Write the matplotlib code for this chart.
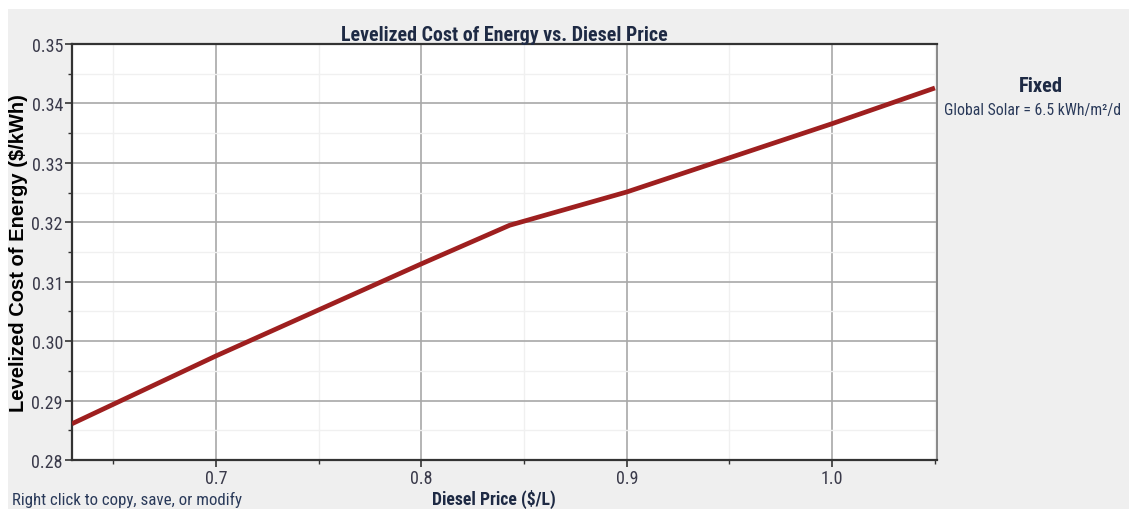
import matplotlib
matplotlib.use("Agg")
import matplotlib.pyplot as plt
from matplotlib import font_manager
from matplotlib.patches import Rectangle
from matplotlib.ticker import MultipleLocator, FormatStrFormatter

diesel_price = [0.63, 0.70, 0.80, 0.843, 0.90, 1.00, 1.05]
lcoe = [0.2861, 0.2975, 0.3130, 0.3195, 0.3251, 0.3366, 0.3426]
x_ticks = [0.7, 0.8, 0.9, 1.0]
y_ticks = [0.28, 0.29, 0.30, 0.31, 0.32, 0.33, 0.34, 0.35]

names = {f.name for f in font_manager.fontManager.ttflist}
narrow = None
for cand in ['Liberation Sans Narrow', 'Arial Narrow', 'Roboto Condensed', 'Open Sans Condensed']:
    if cand in names:
        narrow = cand
        break
if narrow is None:
    narrow = 'Liberation Sans'
    scale = 0.88
else:
    scale = 1.0

plt.rcParams['font.family'] = [narrow, 'Liberation Sans', 'DejaVu Sans']

W, H = 1129, 510
fig = plt.figure(figsize=(W / 100, H / 100), dpi=100)
fig.patch.set_facecolor('white')
fig.patches.append(Rectangle((8 / W, 0), 1 - 8 / W, 1 - 10 / H, transform=fig.transFigure,
                             facecolor='#efefef', edgecolor='none', zorder=-10))

ax = fig.add_axes([72 / W, 1 - 461 / H, (937 - 72) / W, (461 - 45) / H])
ax.set_facecolor('white')
ax.plot(diesel_price, lcoe, color='#9e1f1f', lw=3.4, solid_capstyle='butt', zorder=3)

ax.set_xlim(0.63, 1.051)
ax.set_ylim(0.28, 0.35)
ax.set_xticks(x_ticks)
ax.set_yticks(y_ticks)
ax.xaxis.set_minor_locator(MultipleLocator(0.05))
ax.yaxis.set_minor_locator(MultipleLocator(0.005))
ax.xaxis.set_major_formatter(FormatStrFormatter('%.1f'))
ax.yaxis.set_major_formatter(FormatStrFormatter('%.2f'))

ax.grid(which='major', color='#a8a8a8', lw=1.2)
ax.grid(which='minor', color='#f0f0f0', lw=1.0)
ax.set_axisbelow(True)

for s in ['left', 'bottom', 'top']:
    ax.spines[s].set_color('#333333')
    ax.spines[s].set_linewidth(1.6)
ax.spines['right'].set_color('#888888')
ax.spines['right'].set_linewidth(1.4)

ax.tick_params(which='major', direction='out', length=5, width=1.2, color='#333333',
               labelsize=13 * scale, labelcolor='#3a3a4a', pad=1.5)
ax.tick_params(which='minor', direction='out', length=3, width=1.0, color='#333333')
ax.tick_params(axis='x', pad=1.5)

ax.set_title('Levelized Cost of Energy vs. Diesel Price', fontsize=14.3 * scale, fontweight='bold',
             color='#1e2a44', pad=3)
ax.set_ylabel('Levelized Cost of Energy ($/kWh)', fontsize=14.5, fontweight='bold',
              color='black', family=['Liberation Sans', 'DejaVu Sans'])
ax.yaxis.set_label_coords(-(72 - 28) / (937 - 72), 0.5)

fig.text(494 / W, 1 / H, 'Diesel Price ($/L)', ha='center', va='bottom', fontsize=12.8 * scale,
         fontweight='bold', color='#1e2a44')
fig.text(1041 / W, 1 - 87 / H, 'Fixed', ha='center', va='center', fontsize=14.8 * scale,
         fontweight='bold', color='#1e2a44')
fig.text(944 / W, 1 - 111 / H, 'Global Solar = 6.5 kWh/m²/d', ha='left', va='center',
         fontsize=11.3 * scale, color='#2a3a5a')
fig.text(12 / W, 1 - 500 / H, 'Right click to copy, save, or modify', ha='left', va='center',
         fontsize=12.2 * (scale if narrow != 'Liberation Sans' else 0.9), color='#2a3a5a')

fig.savefig('out.png', dpi=100)
